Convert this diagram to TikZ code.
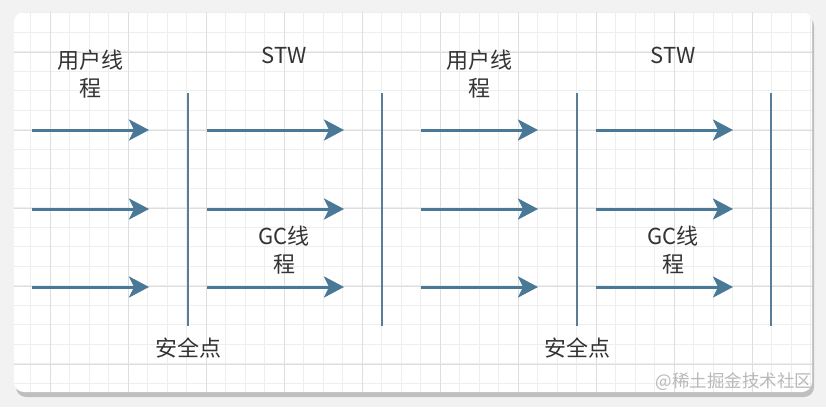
\documentclass[tikz,border=0pt]{standalone}
\usepackage{fontspec}
\newfontfamily\cjk{Noto Sans CJK SC}
\usetikzlibrary{arrows.meta, positioning}

\definecolor{flowblue}{HTML}{4A7897}
\definecolor{wallblue}{HTML}{5A7D96}
\definecolor{inkgray}{HTML}{333333}
\definecolor{gridmajor}{HTML}{DEDEDE}
\definecolor{gridminor}{HTML}{EEEEEE}

\tikzset{
  lbl/.style={text=inkgray, font=\cjk\fontsize{22}{28}\selectfont, align=center, inner sep=0pt},
  flow/.style={draw=flowblue, line width=3pt, -{Stealth[length=20pt, width=21pt, inset=5pt]}},
  wall/.style={draw=wallblue, line width=2.6pt},
}

\begin{document}
\begin{tikzpicture}[x=1pt, y=-1pt]

	% page and panel
	\useasboundingbox (0,0) rectangle (826,407);
	\fill[gray!10] (0,0) rectangle (826,407);
	\fill[gray!50, rounded corners=10pt] (16,16) rectangle (814,397);
	\fill[white, rounded corners=10pt] (14,12) rectangle (812,392);

	% grid
	\begin{scope}
		\clip[rounded corners=10pt] (14,12) rectangle (812,392);
		\foreach \g in {-8.5,11,...,830} \draw[gridminor, line width=0.8pt] (\g,12) -- (\g,392);
		\foreach \g in {-7,12.5,...,400} \draw[gridminor, line width=0.8pt] (14,\g) -- (812,\g);
		\foreach \g in {-28,50,...,830} \draw[gridmajor, line width=1pt] (\g,12) -- (\g,392);
		\foreach \g in {-26,52,...,400} \draw[gridmajor, line width=1pt] (14,\g) -- (812,\g);
	\end{scope}

	% two rounds: user threads, safepoint, STW with GC threads
	\foreach \k/\dx in {1/0, 2/389} {
		\begin{scope}[xshift=\dx pt]
			\node[lbl] (user\k) at (90,74) {用户线\\程};
			\node[lbl] (stw\k) at (284,55) {STW};
			\node[lbl] (gc\k) at (284,250) {GC线\\程};
			\node[lbl] (safe\k) at (188,348) {安全点};

			\coordinate (safetop\k) at (188,93);
			\coordinate (safebot\k) at (188,326);
			\coordinate (endtop\k) at (382,93);
			\coordinate (endbot\k) at (382,326);
			\draw[wall] (safetop\k) -- (safebot\k);
			\draw[wall] (endtop\k) -- (endbot\k);

			\foreach \r/\y in {a/130, b/209, c/287} {
				\coordinate (us\k\r) at (32,\y);
				\coordinate (ue\k\r) at (149,\y);
				\coordinate (gs\k\r) at (207,\y);
				\coordinate (ge\k\r) at (344,\y);
				\draw[flow] (us\k\r) -- (ue\k\r);
				\draw[flow] (gs\k\r) -- (ge\k\r);
			}
		\end{scope}
	}

	\node[text=gray!55, font=\cjk\fontsize{17.5}{20}\selectfont, inner sep=0pt] (mark) at (734,382) {@稀土掘金技术社区};

\end{tikzpicture}
\end{document}
